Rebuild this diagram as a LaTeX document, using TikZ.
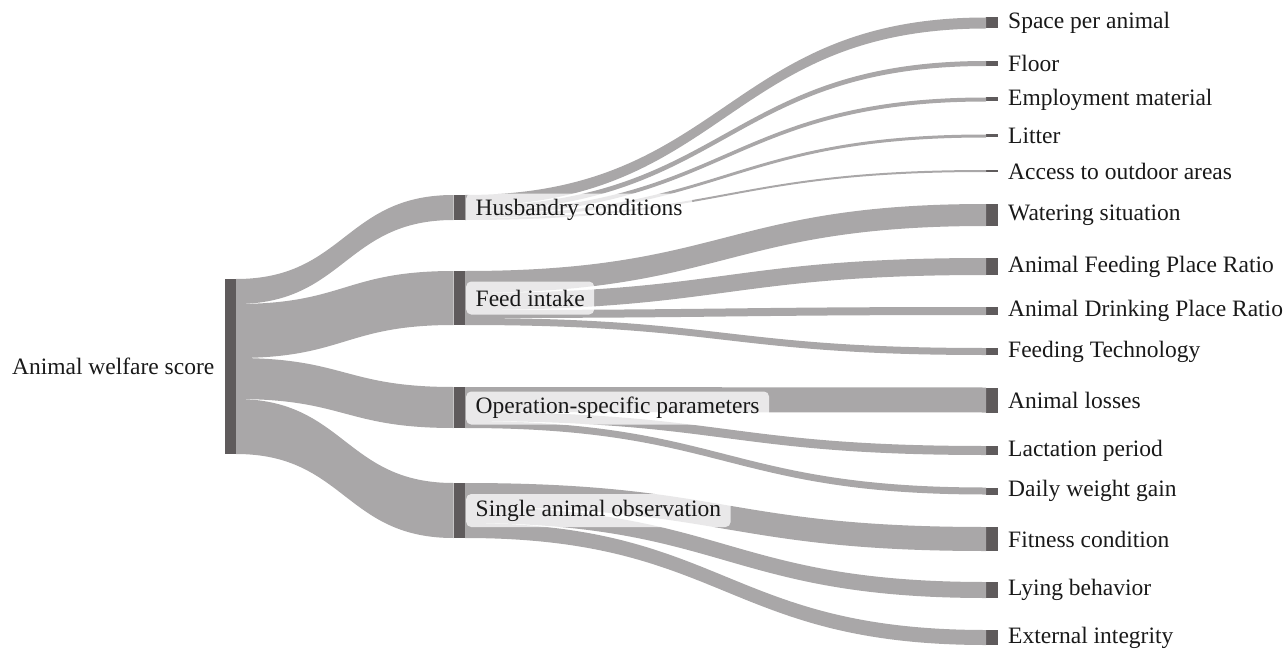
\documentclass[tikz,border=0pt]{standalone}
\usepackage{fontspec}
\setmainfont{Liberation Serif}
\usetikzlibrary{calc}

\definecolor{barcol}{RGB}{95,91,92}
\definecolor{flowcol}{RGB}{169,167,168}
\definecolor{txtcol}{RGB}{25,25,25}

% Sankey link: source node, offset below its top, target node, offset below its top, thickness
\newcommand{\sflow}[5]{%
  \fill[flowfill] let \p1=($(#1.north east)+(0,#2)$), \p2=($(#3.north west)+(0,#4)$),
    \p3=($(#1.north east)+(0,#2+#5)$), \p4=($(#3.north west)+(0,#4+#5)$),
    \n1={0.5*(\x1+\x2)} in
    (\p1) .. controls (\n1,\y1) and (\n1,\y2) .. (\p2) -- (\p4)
    .. controls (\n1,\y4) and (\n1,\y3) .. (\p3) -- cycle;}

\begin{document}
\begin{tikzpicture}[x=1pt,y=-1pt,
  bar/.style={rectangle,fill=barcol,inner sep=0pt,outer sep=0pt,
    minimum width=11.5pt,anchor=north west},
  flowfill/.style={fill=flowcol},
  lbl/.style={font=\fontsize{23.5}{28}\selectfont,text=txtcol,inner sep=0pt},
  rlbl/.style={lbl,anchor=west},
  mlbl/.style={lbl,anchor=west,fill=white,fill opacity=0.75,text opacity=1,
    rounded corners=5pt,inner xsep=9.5pt,minimum height=33pt}]
\useasboundingbox (0,0) rectangle (1287,650);

% root node
\node[bar,minimum height=175pt] (root) at (224.5,279) {};

% second level
\node[bar,minimum height=25pt] (husb)   at (453.5,195) {};
\node[bar,minimum height=54pt] (feed)   at (453.5,271) {};
\node[bar,minimum height=41pt] (oper)   at (453.5,387) {};
\node[bar,minimum height=55pt] (single) at (453.5,483) {};

% indicators
\node[bar,minimum height=11pt] (space)  at (986,17.5) {};
\node[bar,minimum height=5pt]  (floor)  at (986,61) {};
\node[bar,minimum height=4pt]  (emp)    at (986,97.5) {};
\node[bar,minimum height=3pt]  (litter) at (986,134.5) {};
\node[bar,minimum height=2pt]  (access) at (986,170) {};
\node[bar,minimum height=22pt] (water)  at (986,204) {};
\node[bar,minimum height=17pt] (fpr)    at (986,258) {};
\node[bar,minimum height=8pt]  (dpr)    at (986,307) {};
\node[bar,minimum height=7pt]  (ft)     at (986,348) {};
\node[bar,minimum height=25pt] (losses) at (986,387.5) {};
\node[bar,minimum height=9pt]  (lact)   at (986,446) {};
\node[bar,minimum height=7pt]  (daily)  at (986,487.5) {};
\node[bar,minimum height=24pt] (fit)    at (986,527) {};
\node[bar,minimum height=16pt] (lying)  at (986,582) {};
\node[bar,minimum height=15pt] (ext)    at (986,630) {};

% links from the overall score
\sflow{root}{0}{husb}{0}{25}
\sflow{root}{25}{feed}{0}{54}
\sflow{root}{79}{oper}{0}{41}
\sflow{root}{120}{single}{0}{55}

% husbandry conditions
\sflow{husb}{0}{space}{0}{11}
\sflow{husb}{11}{floor}{0}{5}
\sflow{husb}{16}{emp}{0}{4}
\sflow{husb}{20}{litter}{0}{3}
\sflow{husb}{23}{access}{0}{2}

% feed intake
\sflow{feed}{0}{water}{0}{22}
\sflow{feed}{22}{fpr}{0}{17}
\sflow{feed}{39}{dpr}{0}{8}
\sflow{feed}{47}{ft}{0}{7}

% operation-specific parameters
\sflow{oper}{0}{losses}{0}{25}
\sflow{oper}{25}{lact}{0}{9}
\sflow{oper}{34}{daily}{0}{7}

% single animal observation
\sflow{single}{0}{fit}{0}{24}
\sflow{single}{24}{lying}{0}{16}
\sflow{single}{40}{ext}{0}{15}

% labels
\node[lbl,anchor=east] (lroot) at ($(root.west)+(-10,0)$) {Animal welfare score};

\node[mlbl] (lhusb)   at ($(husb.east)+(1,2.5)$)  {Husbandry conditions};
\node[mlbl] (lfeed)   at ($(feed.east)+(1,0)$)    {Feed intake};
\node[mlbl] (loper)   at ($(oper.east)+(1,0.5)$)  {Operation-specific parameters};
\node[mlbl] (lsingle) at ($(single.east)+(1,0)$)  {Single animal observation};

\node[rlbl] at ($(space.east)+(10.5,0)$)  {Space per animal};
\node[rlbl] at ($(floor.east)+(10.5,0)$)  {Floor};
\node[rlbl] at ($(emp.east)+(10.5,0)$)    {Employment material};
\node[rlbl] at ($(litter.east)+(10.5,0)$) {Litter};
\node[rlbl] at ($(access.east)+(10.5,0)$) {Access to outdoor areas};
\node[rlbl] at ($(water.east)+(10.5,0)$)  {Watering situation};
\node[rlbl] at ($(fpr.east)+(10.5,0)$)    {Animal Feeding Place Ratio};
\node[rlbl] at ($(dpr.east)+(10.5,0)$)    {Animal Drinking Place Ratio};
\node[rlbl] at ($(ft.east)+(10.5,0)$)     {Feeding Technology};
\node[rlbl] at ($(losses.east)+(10.5,0)$) {Animal losses};
\node[rlbl] at ($(lact.east)+(10.5,0)$)   {Lactation period};
\node[rlbl] at ($(daily.east)+(10.5,0)$)  {Daily weight gain};
\node[rlbl] at ($(fit.east)+(10.5,0)$)    {Fitness condition};
\node[rlbl] at ($(lying.east)+(10.5,0)$)  {Lying behavior};
\node[rlbl] at ($(ext.east)+(10.5,0)$)    {External integrity};
\end{tikzpicture}
\end{document}
